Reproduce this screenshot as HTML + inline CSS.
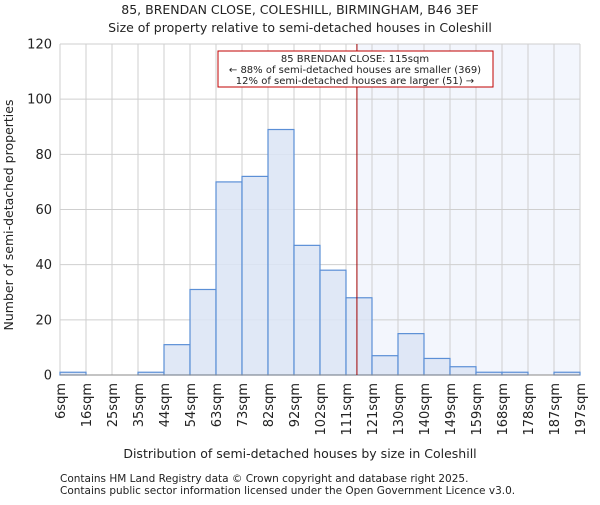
<!DOCTYPE html>
<html><head><meta charset="utf-8"><style>
body{margin:0;background:#fff;}
svg text{font-family:"DejaVu Sans","Liberation Sans",sans-serif;fill:#222;}
</style></head><body>
<svg id="c" width="600" height="500" xmlns="http://www.w3.org/2000/svg">
<text x="300" y="14" text-anchor="middle" font-size="12.5">85, BRENDAN CLOSE, COLESHILL, BIRMINGHAM, B46 3EF</text>
<text x="300" y="32" text-anchor="middle" font-size="12.5">Size of property relative to semi-detached houses in Coleshill</text>
<g id="plot"></g>
<text x="300" y="458" text-anchor="middle" font-size="12.5">Distribution of semi-detached houses by size in Coleshill</text>
<text transform="translate(13,215) rotate(-90)" text-anchor="middle" font-size="12.5">Number of semi-detached properties</text>
<text x="60" y="482" font-size="10.5">Contains HM Land Registry data © Crown copyright and database right 2025.</text>
<text x="60" y="494" font-size="10.5">Contains public sector information licensed under the Open Government Licence v3.0.</text>
</svg>
<script>
const labels=["6sqm","16sqm","25sqm","35sqm","44sqm","54sqm","63sqm","73sqm","82sqm","92sqm","102sqm","111sqm","121sqm","130sqm","140sqm","149sqm","159sqm","168sqm","178sqm","187sqm","197sqm"];
const counts=[1,0,0,1,11,31,70,72,89,47,38,28,7,15,6,3,1,1,0,1];
const yTicks=[0,20,40,60,80,100,120];
const propertyBinPos=11.42;
const L=60,R=580,T=44,B=375,ymax=120;
const n=counts.length,bw=(R-L)/n;
const xs=i=>L+i*bw, ys=v=>B-(v/ymax)*(B-T);
const g=document.getElementById('plot');
const NS="http://www.w3.org/2000/svg";
function mk(t,a){const e=document.createElementNS(NS,t);for(const k in a)e.setAttribute(k,a[k]);g.appendChild(e);return e;}
const px=xs(propertyBinPos);
let e=mk('rect',{x:px,y:T,width:R-px,height:B-T,fill:'#f3f6fd'});


for(let i=0;i<=n;i++){e=mk('line',{x1:xs(i),x2:xs(i),y1:T,y2:B,stroke:'#cfcfcf','stroke-width':1});

}
yTicks.forEach(v=>{e=mk('line',{x1:L,x2:R,y1:ys(v),y2:ys(v),stroke:'#cfcfcf','stroke-width':1});


e=mk('text',{x:L-8,y:ys(v)+4.5,'text-anchor':'end','font-size':13});e.textContent=v;

});
counts.forEach((v,i)=>{if(v<=0)return;e=mk('rect',{x:xs(i),y:ys(v),width:bw,height:B-ys(v),fill:'#dae4f4','fill-opacity':0.85,stroke:'#5b8fd6','stroke-width':1.2});

});
e=mk('line',{x1:L,x2:R,y1:B,y2:B,stroke:'#888','stroke-width':1});


labels.forEach((s,i)=>{e=mk('text',{transform:`translate(${xs(i)+5},${B+8}) rotate(-90)`,'text-anchor':'end','font-size':13});e.textContent=s;

});
e=mk('line',{x1:px,x2:px,y1:T,y2:B,stroke:'#a00000','stroke-width':1});


e=mk('rect',{x:218,y:51,width:275,height:36,fill:'#fff',stroke:'#c00000','stroke-width':1});


["85 BRENDAN CLOSE: 115sqm","← 88% of semi-detached houses are smaller (369)","12% of semi-detached houses are larger (51) →"].forEach((s,i)=>{
e=mk('text',{x:355,y:62+i*11,'text-anchor':'middle','font-size':10});e.textContent=s;

});
</script>
</body></html>
